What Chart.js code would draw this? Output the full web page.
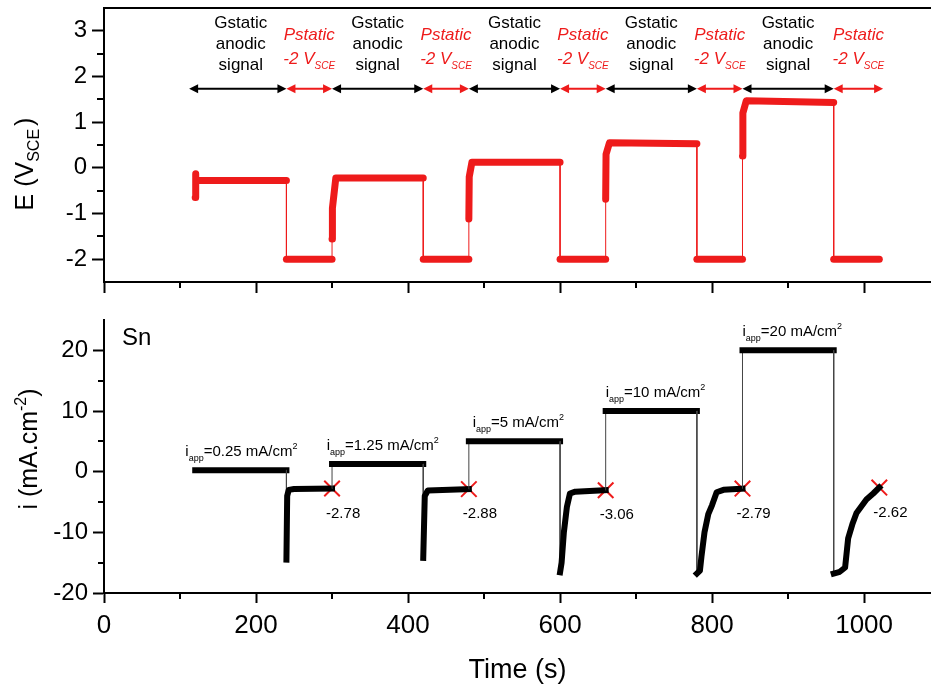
<!DOCTYPE html>
<html>
<head>
<meta charset="utf-8">
<script src="https://cdn.jsdelivr.net/npm/chart.js@4.4.1/dist/chart.umd.min.js"></script>
<style>
    body { margin: 0; background: #fff; }
    #potBox { position: absolute; left: 0; top: 0; }
    #curBox { position: absolute; left: 0; top: 300px; }
</style>
</head>
<body>
<div id="potBox"><canvas id="potChart" width="931" height="300"></canvas></div>
<div id="curBox"><canvas id="curChart" width="931" height="388"></canvas></div>
<script>
// top panel: potential vs time
const potTime = [120, 120.3, 121, 240, 240, 300, 300, 300.5, 305, 420, 420, 480, 480, 480.5, 484, 600, 600, 660, 660, 660.5, 665, 780, 780, 840, 840, 840.5, 845, 960, 960, 1020];
const potE = [-0.65, -0.13, -0.28, -0.28, -2, -2, -1.56, -0.88, -0.22, -0.22, -2, -2, -1.12, -0.2, 0.12, 0.12, -2, -2, -0.69, 0.3, 0.55, 0.53, -2, -2, 0.26, 1.2, 1.47, 1.43, -2, -2];

// bottom panel: current density vs time
const curTime = [120, 240, 240, 241, 243, 250, 300, 300, 420, 420, 422, 426, 480, 480, 600, 600, 602, 605, 609, 613, 620, 660, 660, 780, 780, 784, 786, 790, 795, 800, 806, 815, 840, 840, 960, 960, 968, 975, 979, 985, 990, 1003, 1012, 1020];
const curI = [0.25, 0.25, -14.5, -4, -3.0, -2.85, -2.78, 1.25, 1.25, -14.2, -4, -3.1, -2.88, 5, 5, -16.6, -15, -10, -5.8, -3.6, -3.3, -3.06, 10, 10, -16.8, -16.3, -14, -10, -7, -5.5, -3.4, -3.0, -2.79, 20, 20, -16.8, -16.5, -15.8, -11, -8.5, -6.8, -4.6, -3.6, -2.62];

// end-of-step potentials (red crosses)
const markTime = [300, 480, 660, 840, 1020];
const markValue = [-2.78, -2.88, -3.06, -2.79, -2.62];

// applied current labels
const appLabelTime = [107, 293, 485, 660, 840];
const appValue = [0.25, 1.25, 5, 10, 20];
const appText = ['0.25', '1.25', '5', '10', '20'];

// step boundaries for the arrows in the top panel
const stepEdges = [112, 240, 300, 420, 480, 600, 660, 780, 840, 960, 1025];
const arrowLevel = 1.73;

// tick values
const xMajor = [0, 200, 400, 600, 800, 1000];
const xMinor = [100, 300, 500, 700, 900];
const eMajor = [-2, -1, 0, 1, 2, 3];
const eMinor = [-1.5, -0.5, 0.5, 1.5, 2.5];
const iMajor = [-20, -10, 0, 10, 20];
const iMinor = [-15, -5, 5, 15];

const RED = '#ee1b1b';
const FONT = '"Liberation Sans", Arial, sans-serif';
Chart.defaults.font.family = FONT;
Chart.defaults.color = '#000';

function drawParts(ctx, parts, x, y, align) {
    let total = 0;
    parts.forEach(p => {
        ctx.font = p.font;
        total += ctx.measureText(p.text).width + (p.gap || 0);
    });
    let cx = align === 'center' ? x - total / 2 : x;
    ctx.textAlign = 'left';
    ctx.textBaseline = 'alphabetic';
    parts.forEach(p => {
        ctx.font = p.font;
        ctx.fillText(p.text, cx, y + (p.dy || 0));
        cx += ctx.measureText(p.text).width + (p.gap || 0);
    });
}

function drawRotated(ctx, parts, baseX, centerY) {
    ctx.save();
    ctx.translate(baseX, centerY);
    ctx.rotate(-Math.PI / 2);
    drawParts(ctx, parts, 0, 0, 'center');
    ctx.restore();
}

function minorTicks(chart, xs, ys, xLen, yLen) {
    const ctx = chart.ctx;
    const area = chart.chartArea;
    ctx.save();
    ctx.strokeStyle = '#000';
    ctx.lineWidth = 2;
    ctx.beginPath();
    xs.forEach(v => {
        const px = Math.round(chart.scales.x.getPixelForValue(v));
        ctx.moveTo(px, area.bottom);
        ctx.lineTo(px, area.bottom + xLen);
    });
    ys.forEach(v => {
        const py = Math.round(chart.scales.y.getPixelForValue(v));
        ctx.moveTo(area.left - yLen, py);
        ctx.lineTo(area.left, py);
    });
    ctx.stroke();
    ctx.restore();
}

function arrowHead(ctx, x, y, dir) {
    ctx.beginPath();
    ctx.moveTo(x, y);
    ctx.lineTo(x - dir * 9, y - 4.5);
    ctx.lineTo(x - dir * 9, y + 4.5);
    ctx.closePath();
    ctx.fill();
}

const potDecor = {
    id: 'potDecor',
    afterDraw(chart) {
        const ctx = chart.ctx;
        const area = chart.chartArea;
        const xs = chart.scales.x;
        const ys = chart.scales.y;
        minorTicks(chart, xMinor, eMinor, 6, 7);
        ctx.save();
        // top frame line
        ctx.strokeStyle = '#000';
        ctx.lineWidth = 2;
        ctx.beginPath();
        ctx.moveTo(area.left - 1, area.top);
        ctx.lineTo(area.right, area.top);
        ctx.stroke();

        // step arrows and labels
        const ay = ys.getPixelForValue(arrowLevel);
        for (let k = 0; k < stepEdges.length - 1; k++) {
            const col = k % 2 === 0 ? '#000' : RED;
            const x1 = xs.getPixelForValue(stepEdges[k]);
            const x2 = xs.getPixelForValue(stepEdges[k + 1]);
            ctx.strokeStyle = col;
            ctx.fillStyle = col;
            ctx.lineWidth = 2;
            ctx.beginPath();
            ctx.moveTo(x1 + 4, ay);
            ctx.lineTo(x2 - 4, ay);
            ctx.stroke();
            arrowHead(ctx, x1, ay, -1);
            arrowHead(ctx, x2, ay, 1);

            const mid = xs.getPixelForValue((stepEdges[k] + stepEdges[k + 1]) / 2 + (k === 0 ? 4 : 0));
            if (k % 2 === 0) {
                ctx.font = '17px ' + FONT;
                ctx.textAlign = 'center';
                ctx.textBaseline = 'alphabetic';
                ctx.fillText('Gstatic', mid, 28);
                ctx.fillText('anodic', mid, 49);
                ctx.fillText('signal', mid, 70);
            } else {
                ctx.font = 'italic 17px ' + FONT;
                ctx.textAlign = 'center';
                ctx.textBaseline = 'alphabetic';
                ctx.fillText('Pstatic', mid, 40);
                drawParts(ctx, [
                    { text: '-2 V', font: 'italic 17px ' + FONT },
                    { text: 'SCE', font: 'italic 10px ' + FONT, dy: 5 }
                ], mid, 64, 'center');
            }
        }

        // y axis title
        ctx.fillStyle = '#000';
        drawRotated(ctx, [
            { text: 'E (V', font: '25px ' + FONT },
            { text: 'SCE', font: '16px ' + FONT, dy: 6, gap: 3 },
            { text: ')', font: '25px ' + FONT }
        ], 33, 164);
        ctx.restore();
    }
};

const curDecor = {
    id: 'curDecor',
    afterDraw(chart) {
        const ctx = chart.ctx;
        const xs = chart.scales.x;
        const ys = chart.scales.y;
        minorTicks(chart, xMinor, iMinor, 6, 6);
        ctx.save();
        ctx.fillStyle = '#000';
        ctx.font = '24px ' + FONT;
        ctx.textAlign = 'left';
        ctx.fillText('Sn', 122, 45);

        appValue.forEach((v, k) => {
            drawParts(ctx, [
                { text: 'i', font: '15px ' + FONT },
                { text: 'app', font: '9px ' + FONT, dy: 5 },
                { text: '=' + appText[k] + ' mA/cm', font: '15px ' + FONT },
                { text: '2', font: '9px ' + FONT, dy: -7 }
            ], xs.getPixelForValue(appLabelTime[k]), ys.getPixelForValue(v) - 14, 'left');
        });

        markValue.forEach((v, k) => {
            ctx.font = '15px ' + FONT;
            ctx.textAlign = 'left';
            ctx.fillText(v.toFixed(2), xs.getPixelForValue(markTime[k]) - 6, ys.getPixelForValue(v) + 29);
        });

        drawRotated(ctx, [
            { text: 'i (mA.cm', font: '25px ' + FONT },
            { text: '-2', font: '16px ' + FONT, dy: -11 },
            { text: ')', font: '25px ' + FONT }
        ], 37, 149);
        ctx.restore();
    }
};

function axisX(showLabels) {
    return {
        type: 'linear',
        min: 0,
        max: 1088,
        border: { color: '#000', width: 2 },
        grid: { drawOnChartArea: false, color: '#000', tickLength: showLabels ? 10 : 11, tickWidth: 2 },
        ticks: {
            display: showLabels,
            padding: 7,
            font: { size: 26 },
            color: '#000',
            callback: v => String(v)
        },
        afterBuildTicks: s => { s.ticks = xMajor.map(v => ({ value: v })); },
        title: showLabels ? { display: true, text: 'Time (s)', font: { size: 27 }, color: '#000', padding: { top: 0, bottom: 1 } } : { display: false },
        afterFit: s => {
            s.height = showLabels ? 95 : 18;
            s.paddingLeft = 0;
            s.paddingRight = 0;
        }
    };
}

function axisY(min, max, major, tickLen) {
    return {
        min: min,
        max: max,
        border: { color: '#000', width: 2 },
        grid: { drawOnChartArea: false, color: '#000', tickLength: tickLen, tickWidth: 2 },
        ticks: {
            padding: 5,
            font: { size: 24 },
            color: '#000',
            callback: v => String(v)
        },
        afterBuildTicks: s => { s.ticks = major.map(v => ({ value: v })); },
        afterFit: s => {
            s.width = 104;
            s.paddingTop = 0;
            s.paddingBottom = 0;
        }
    };
}

new Chart(document.getElementById('potChart'), {
    type: 'line',
    data: {
        datasets: [{
            data: potTime.map((t, k) => ({ x: t, y: potE[k] })),
            borderColor: RED,
            borderWidth: 7,
            borderCapStyle: 'round',
            borderJoinStyle: 'round',
            pointRadius: 0,
            segment: {
                borderWidth: c => potTime[c.p0DataIndex] === potTime[c.p1DataIndex] ? 1 : 7
            }
        }]
    },
    options: {
        responsive: false,
        animation: false,
        events: [],
        layout: { autoPadding: false, padding: { top: 8, left: 0, right: 0, bottom: 0 } },
        plugins: { legend: { display: false }, tooltip: { enabled: false } },
        scales: {
            x: axisX(false),
            y: axisY(-2.5, 3.5, eMajor, 12)
        }
    },
    plugins: [potDecor]
});

new Chart(document.getElementById('curChart'), {
    type: 'line',
    data: {
        datasets: [{
            data: curTime.map((t, k) => ({ x: t, y: curI[k] })),
            borderColor: '#000',
            borderWidth: 6,
            borderCapStyle: 'square',
            borderJoinStyle: 'round',
            pointRadius: 0,
            segment: {
                borderWidth: c => curTime[c.p0DataIndex] === curTime[c.p1DataIndex] ? 1 : 6,
                borderColor: c => curTime[c.p0DataIndex] === curTime[c.p1DataIndex] ? '#444' : '#000'
            }
        }, {
            data: markTime.map((t, k) => ({ x: t, y: markValue[k] })),
            showLine: false,
            pointStyle: 'crossRot',
            pointRadius: 11,
            pointBorderWidth: 2,
            pointBorderColor: RED,
            pointBackgroundColor: RED
        }]
    },
    options: {
        responsive: false,
        animation: false,
        events: [],
        layout: { autoPadding: false, padding: { top: 20, left: 0, right: 0, bottom: 0 } },
        plugins: { legend: { display: false }, tooltip: { enabled: false } },
        scales: {
            x: axisX(true),
            y: axisY(-20, 25, iMajor, 11)
        }
    },
    plugins: [curDecor]
});
</script>
</body>
</html>
